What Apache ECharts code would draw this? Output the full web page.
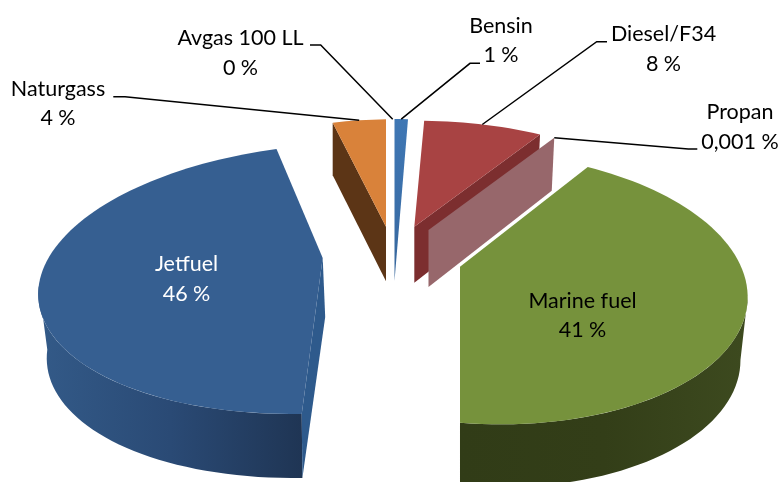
<!DOCTYPE html>
<html>
<head>
<meta charset="utf-8">
<style>
  html, body { margin: 0; padding: 0; background: #fff; }
  #chart { width: 781px; height: 482px; }
</style>
<script src="https://cdn.jsdelivr.net/npm/echarts@6/dist/echarts.min.js"></script>
</head>
<body>
<div id="chart"></div>
<script>
// Fuel shares in percent, listed clockwise from twelve o'clock.
const categories = ['Bensin', 'Diesel/F34', 'Propan', 'Marine fuel', 'Jetfuel', 'Naturgass', 'Avgas 100 LL'];
const shares = [1, 8, 0.001, 41, 46, 4, 0];

const TOP_COLORS = {
  'Bensin': '#3e76b3', 'Diesel/F34': '#a84343', 'Propan': '#97676b',
  'Marine fuel': '#76923c', 'Jetfuel': '#365f91', 'Naturgass': '#d9823a', 'Avgas 100 LL': '#3e76b3'
};
const CUT_COLORS = {
  'Diesel/F34': '#7c2e2f', 'Propan': '#97676b', 'Jetfuel': '#2e5a8c', 'Naturgass': '#5c3516'
};
const RIM_GRADIENTS = {
  'Marine fuel': ['#313c17', '#333e18', '#3d4a1f'],
  'Jetfuel': ['#335a88', '#2a4a75', '#1f3554']
};

// Exploded position and tilted-disc projection of each slice.
// ax/ay/bx/by: plane axes on screen, p/q: perspective, depth: pie thickness,
// kx/ky: shrink of the lower rim, cut: which straight side shows ('start' | 'end'),
// tipDrop: lower end of the straight side at the slice tip, when it differs from the rim.
const tiltDiesel = { p: .155, q: .091, ax: 262, ay: 6.5, bx: 5.1, by: 122.4 };
const GEOMETRY = {
  'Bensin':       { cx: 394.5, cy: 281, p: .155, q: .02, ax: 248, ay: 0, bx: 0, by: 187, depth: 0 },
  'Diesel/F34':   { cx: 414.3, cy: 226.7, ...tiltDiesel, depth: 56, kx: .98, ky: 1.04, cut: 'end' },
  'Propan':       { cx: 428.5, cy: 230, ...tiltDiesel, depth: 57, kx: .98, ky: 1.044, cut: 'start' },
  'Marine fuel':  { cx: 460, cy: 266.7, p: .155, q: .091, ax: 258, ay: 6.5, bx: 0, by: 131.8, depth: 63, kx: .975, ky: 1 },
  'Jetfuel':      { cx: 322.7, cy: 258, p: .155, q: .02, ax: 283.4, ay: -7.2, bx: -17.7, by: 131.8, depth: 64, kx: .97, ky: 1, cut: 'start', tipDrop: [2.5, 59] },
  'Naturgass':    { cx: 386, cy: 226.7, p: .155, q: .02, ax: 247.5, ay: 0, bx: 0, by: 124, depth: 54.5, kx: 1, ky: 1.02, cut: 'start' },
  'Avgas 100 LL': { cx: 392.7, cy: 226.7, p: .155, q: .02, ax: 247.5, ay: 0, bx: 0, by: 124, depth: 0 }
};

// Label centre, text colour and the elbow of the leader line (none for labels inside a slice).
const LABELS = {
  'Bensin':       { x: 501, y: 40.5, color: '#000', elbow: [[480, 63.3], [470, 63.3]] },
  'Diesel/F34':   { x: 663.5, y: 49, color: '#000', elbow: [[607, 41.7], [596.7, 41.7]] },
  'Propan':       { x: 740, y: 127, color: '#000', elbow: [[697.3, 149], [688.3, 149]] },
  'Marine fuel':  { x: 582.5, y: 315.5, color: '#000' },
  'Jetfuel':      { x: 186.5, y: 279, color: '#fff' },
  'Naturgass':    { x: 58, y: 103.5, color: '#000', elbow: [[113.3, 96.7], [125, 96.7]] },
  'Avgas 100 LL': { x: 240.5, y: 53, color: '#000', elbow: [[310, 45], [320.7, 45]] }
};

const total = shares.reduce((a, b) => a + b, 0);
let running = 0;
const rows = shares.map(v => {
  const start = running / total * 360;
  running += v;
  return [v, start, running / total * 360];
});

// Screen position of the rim at a given clockwise angle, relative to the slice tip.
function rimOffset(g, deg) {
  const t = deg * Math.PI / 180;
  const u = Math.sin(t), v = -Math.cos(t);
  const w = 1 - g.p * v - g.q * u;
  return [(g.ax * u + g.bx * v) / w, (g.ay * u + g.by * v) / w];
}
const upper = (g, deg) => {
  const o = rimOffset(g, deg);
  return [g.cx + o[0], g.cy + o[1]];
};
const lower = (g, deg) => {
  const o = rimOffset(g, deg);
  return [g.cx + o[0] * g.kx, g.cy + g.depth + o[1] * g.ky];
};
function sweep(a, b, fn) {
  const n = Math.max(2, Math.ceil((b - a) / 2));
  const pts = [];
  for (let i = 0; i <= n; i++) pts.push(fn(a + (b - a) * i / n));
  return pts;
}
const polygon = (points, fill) => ({ type: 'polygon', shape: { points }, style: { fill } });

function renderSlice(params, api) {
  const name = categories[params.dataIndex];
  const value = api.value(0), a = api.value(1), b = api.value(2);
  const g = GEOMETRY[name], lab = LABELS[name];
  const children = [];

  if (value > 0) {
    if (RIM_GRADIENTS[name]) {
      // The rim is seen only up to the widest point of the projected disc.
      const widest = Math.acos(-g.p) * 180 / Math.PI;
      const from = a < 180 ? Math.max(a, widest) : a;
      const to = a < 180 ? b : Math.min(b, 360 - widest);
      const stops = RIM_GRADIENTS[name];
      const fill = new echarts.graphic.LinearGradient(0, 0, 1, 0, [
        { offset: 0, color: stops[0] }, { offset: .5, color: stops[1] }, { offset: 1, color: stops[2] }
      ]);
      children.push(polygon(sweep(from, to, d => upper(g, d)).concat(sweep(from, to, d => lower(g, d)).reverse()), fill));
    }
    if (g.cut) {
      const d = g.cut === 'start' ? a : b;
      const drop = g.tipDrop || [0, g.depth];
      children.push(polygon([[g.cx, g.cy], upper(g, d), lower(g, d), [g.cx + drop[0], g.cy + drop[1]]], CUT_COLORS[name]));
    }
    if (name === 'Bensin') {
      const fill = new echarts.graphic.LinearGradient(0, 0, 0, 1, [
        { offset: 0, color: '#3f77b4' }, { offset: .6, color: '#3a6ea8' }, { offset: 1, color: '#36659a' }
      ]);
      children.push(polygon([[g.cx, g.cy]].concat(sweep(a, b, d => upper(g, d))), fill));
    } else if (b - a > .01) {
      children.push(polygon([[g.cx, g.cy]].concat(sweep(a, b, d => upper(g, d))), TOP_COLORS[name]));
    }
  }

  if (lab.elbow) {
    children.push({
      type: 'polyline',
      shape: { points: lab.elbow.concat([upper(g, (a + b) / 2)]) },
      style: { stroke: '#000', lineWidth: 1.5, fill: null }
    });
  }
  children.push({
    type: 'text',
    style: {
      x: lab.x, y: lab.y,
      text: name + '\n' + String(value).replace('.', ',') + ' %',
      fill: lab.color,
      font: '21.5px Lato',
      lineHeight: 29.5,
      align: 'center',
      verticalAlign: 'middle'
    }
  });
  return { type: 'group', children };
}

const chart = echarts.init(document.getElementById('chart'), null, { renderer: 'canvas' });
chart.setOption({
  backgroundColor: '#fff',
  animation: false,
  series: [{
    type: 'custom',
    coordinateSystem: 'none',
    silent: true,
    renderItem: renderSlice,
    data: rows
  }]
});
</script>
</body>
</html>
